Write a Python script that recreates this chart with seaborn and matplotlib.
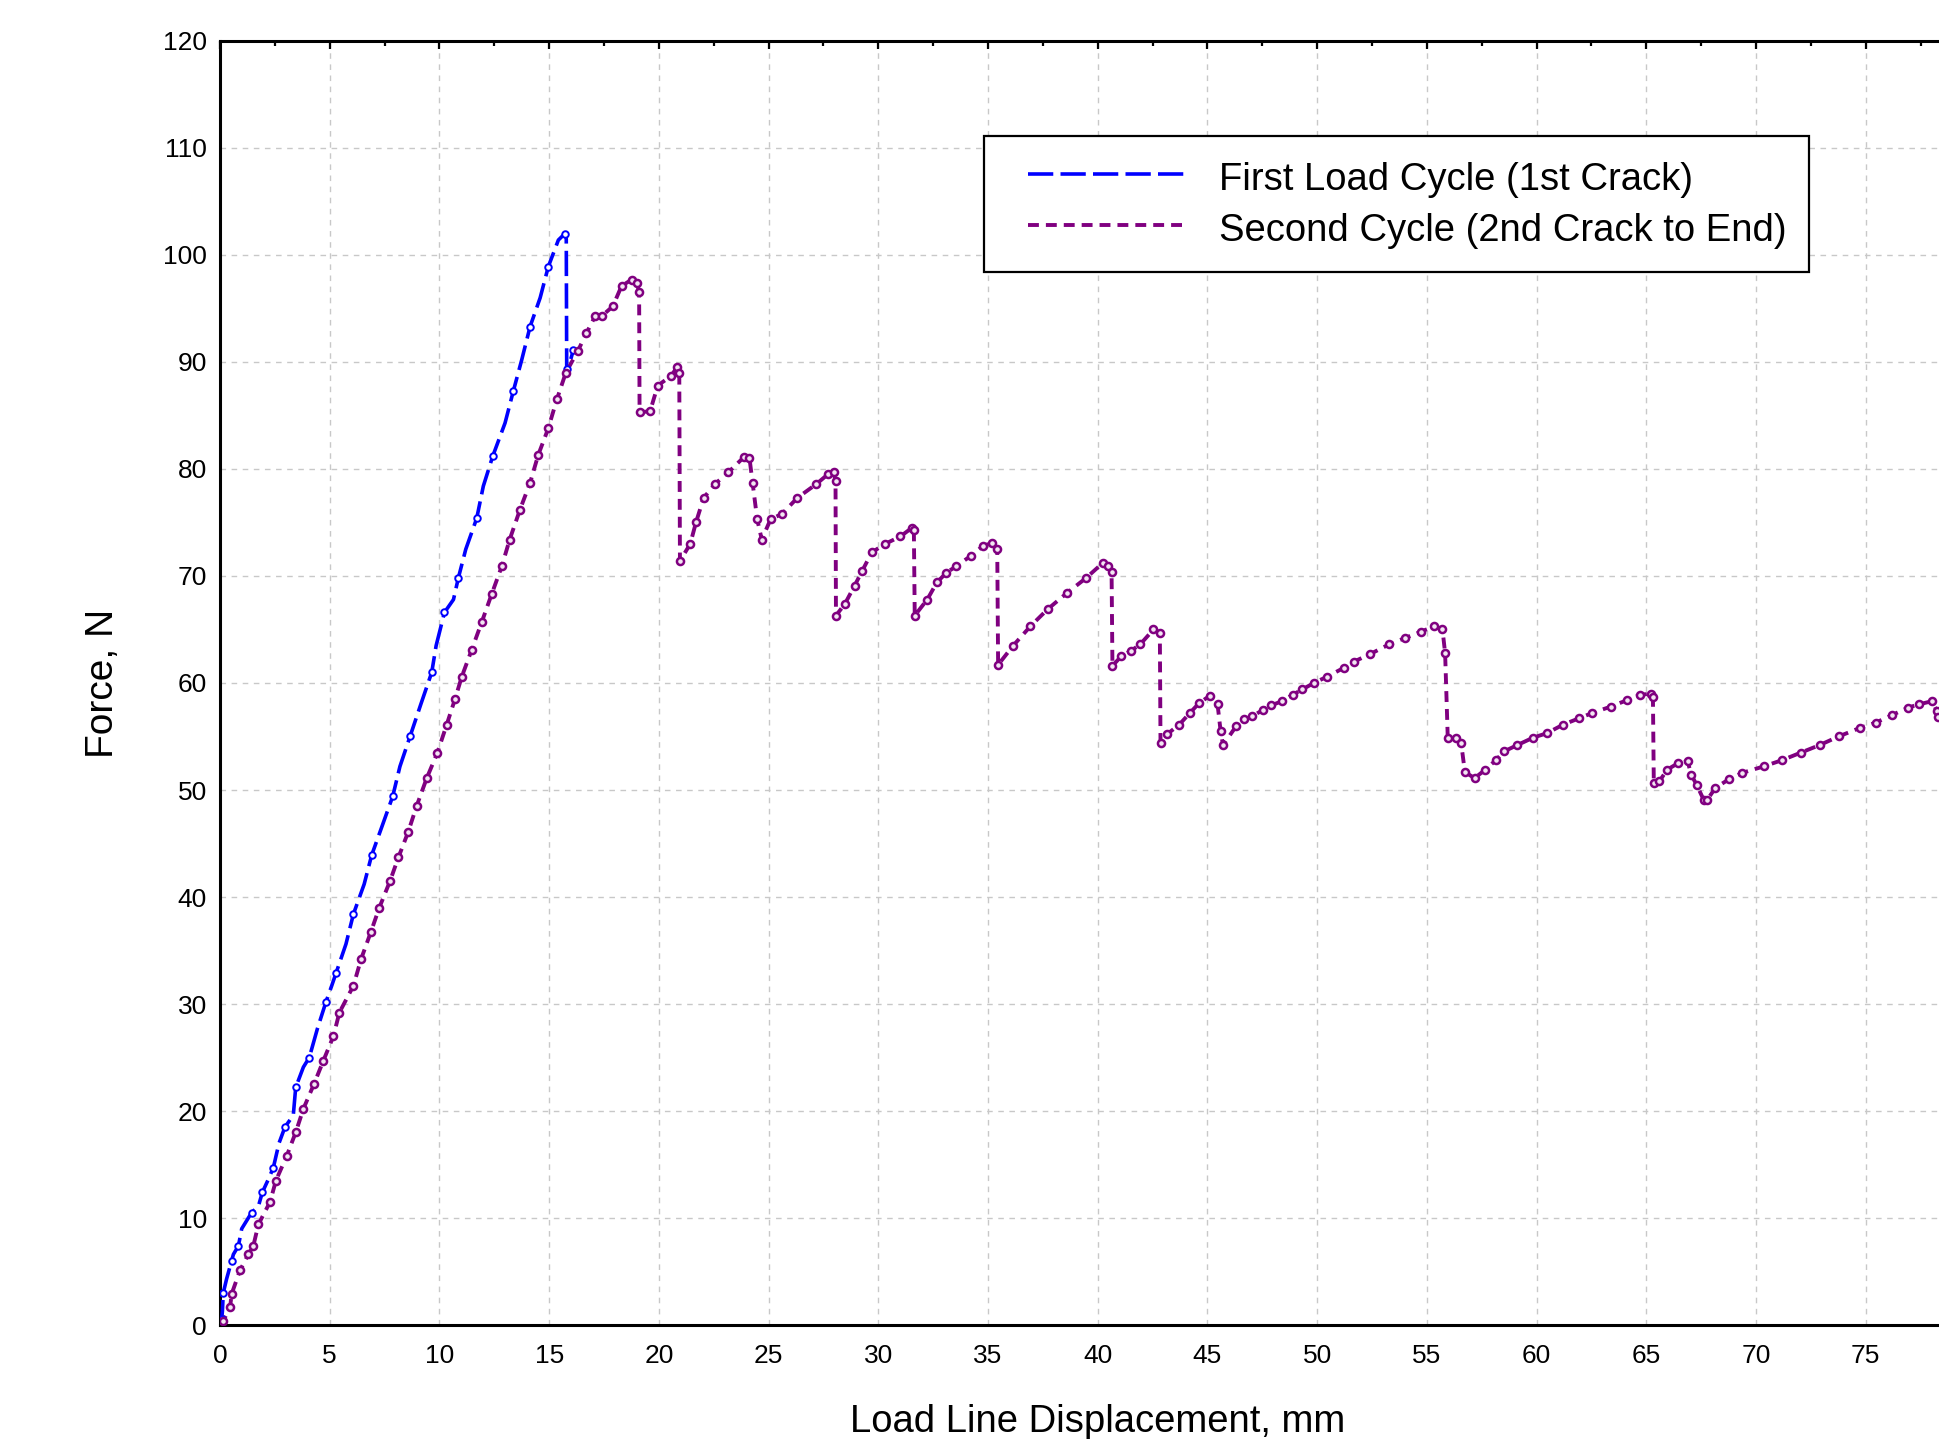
import matplotlib
matplotlib.use("Agg")
import matplotlib.pyplot as plt
from matplotlib.ticker import MultipleLocator
from matplotlib.legend_handler import HandlerLine2D
from matplotlib.lines import Line2D
import seaborn as sns
import pandas as pd

# First load cycle: load line displacement (mm) and force (N)
first_disp = [0, 0.08, 0.11, 0.15, 0.30, 0.53, 0.61, 0.84, 0.99, 1.44, 1.75, 1.93,
              2.20, 2.43, 2.69, 2.96, 3.34, 3.45, 3.80, 4.07, 4.44, 4.83, 5.09, 5.29,
              5.74, 6.08, 6.57, 6.91, 7.40, 7.87, 8.20, 8.66, 9.15, 9.65, 9.85, 10.23,
              10.64, 10.86, 11.20, 11.70, 12.00, 12.43, 12.99, 13.37, 13.75, 14.13,
              14.59, 14.96, 15.42, 15.72, 15.78, 15.80, 15.95, 16.10]
first_force = [0, 0.6, 1.3, 3.0, 4.3, 6.0, 6.6, 7.4, 9.0, 10.5, 11.1, 12.4,
               13.6, 14.7, 17.0, 18.5, 19.6, 22.2, 24.1, 25.0, 27.7, 30.2, 31.7, 32.9,
               35.6, 38.4, 41.2, 43.9, 46.7, 49.4, 52.2, 55.0, 58.0, 61.0, 63.5, 66.6,
               67.8, 69.8, 72.5, 75.4, 78.4, 81.2, 84.3, 87.3, 90.2, 93.3,
               96.0, 98.9, 101.4, 102.0, 101.5, 89.3, 90.0, 91.1]

# Second cycle: from the 2nd crack to the end of the test
second_disp = [0, 0.15, 0.46, 0.53, 0.91, 1.29, 1.52, 1.75, 2.28, 2.55, 3.04, 3.45,
               3.80, 4.28, 4.71, 5.17, 5.44, 6.08, 6.43, 6.87, 7.26, 7.75, 8.13, 8.58,
               8.96, 9.42, 9.91, 10.33, 10.71, 11.02, 11.47, 11.93, 12.38, 12.84, 13.20,
               13.67, 14.13, 14.50, 14.96, 15.35, 15.76, 16.30, 16.70, 17.10, 17.40,
               17.90, 18.30, 18.76, 19.00, 19.10, 19.12, 19.60, 19.95, 20.56, 20.82,
               20.93, 20.96, 21.43, 21.69, 22.04, 22.56, 23.17, 23.87, 24.13, 24.27,
               24.48, 24.69, 25.09, 25.61, 26.31, 27.18, 27.70, 27.96, 28.05, 28.07,
               28.48, 28.92, 29.27, 29.70, 30.31, 31.01, 31.53, 31.62, 31.66, 32.23,
               32.67, 33.10, 33.54, 34.23, 34.76, 35.19, 35.42, 35.46, 36.15, 36.93,
               37.72, 38.59, 39.46, 40.22, 40.45, 40.63, 40.67, 41.07, 41.51, 41.93,
               42.54, 42.83, 42.86, 43.15, 43.71, 44.20, 44.61, 45.10, 45.46, 45.60,
               45.71, 46.32, 46.68, 47.05, 47.54, 47.90, 48.39, 48.88, 49.32, 49.85,
               50.46, 51.20, 51.68, 52.41, 53.27, 54.00, 54.73, 55.34, 55.71, 55.83,
               55.95, 56.32, 56.56, 56.73, 57.17, 57.66, 58.15, 58.51, 59.12, 59.85,
               60.46, 61.20, 61.93, 62.54, 63.39, 64.12, 64.73, 65.22, 65.30, 65.34,
               65.59, 65.95, 66.44, 66.88, 67.05, 67.29, 67.61, 67.78, 68.15, 68.76,
               69.37, 70.34, 71.20, 72.05, 72.90, 73.76, 74.73, 75.46, 76.20, 76.93,
               77.41, 78.02, 78.24, 78.30]
second_force = [0, 0.4, 1.65, 2.9, 5.1, 6.6, 7.4, 9.4, 11.5, 13.5, 15.8, 18.0,
                20.2, 22.5, 24.7, 27.0, 29.2, 31.7, 34.2, 36.7, 39.0, 41.5, 43.7, 46.1,
                48.5, 51.1, 53.5, 56.1, 58.5, 60.6, 63.1, 65.7, 68.3, 70.9, 73.4,
                76.2, 78.7, 81.3, 83.8, 86.5, 89.0, 91.0, 92.7, 94.3, 94.3,
                95.2, 97.1, 97.7, 97.4, 96.5, 85.3, 85.4, 87.8, 88.7, 89.5,
                89.0, 71.4, 73.0, 75.0, 77.3, 78.6, 79.7, 81.1, 81.0, 78.7,
                75.3, 73.4, 75.3, 75.8, 77.3, 78.6, 79.5, 79.7, 78.9, 66.3,
                67.4, 69.1, 70.5, 72.2, 73.0, 73.7, 74.5, 74.3, 66.3, 67.8,
                69.4, 70.3, 70.9, 71.9, 72.8, 73.1, 72.5, 61.7, 63.5, 65.3,
                66.9, 68.4, 69.8, 71.2, 70.9, 70.4, 61.6, 62.5, 63.0, 63.6,
                65.0, 64.7, 54.4, 55.2, 56.1, 57.2, 58.1, 58.8, 58.0, 55.5,
                54.2, 56.0, 56.6, 56.9, 57.5, 57.9, 58.3, 58.9, 59.4, 60.0,
                60.6, 61.4, 62.0, 62.7, 63.6, 64.2, 64.8, 65.3, 65.0, 62.8,
                54.9, 54.9, 54.4, 51.7, 51.1, 51.9, 52.8, 53.6, 54.2, 54.9,
                55.3, 56.1, 56.7, 57.2, 57.8, 58.4, 58.9, 59.0, 58.7, 50.7,
                50.8, 51.9, 52.5, 52.7, 51.4, 50.5, 49.1, 49.1, 50.2, 51.0,
                51.6, 52.2, 52.8, 53.5, 54.2, 55.0, 55.8, 56.3, 57.0, 57.7,
                58.0, 58.3, 57.4, 56.8]

x_ticks = list(range(0, 80, 5))
y_ticks = list(range(0, 121, 10))

first_label = "First Load Cycle (1st Crack)"
second_label = "Second Cycle (2nd Crack to End)"
x_label = "Load Line Displacement, mm"
y_label = "Force, N"

blue = "#0000ff"
purple = "#800080"

sns.set_style("white")
plt.rcParams["font.family"] = ["Liberation Sans", "DejaVu Sans"]
for key in ["text.color", "axes.labelcolor", "xtick.color", "ytick.color"]:
    plt.rcParams[key] = "black"

first = pd.DataFrame({"disp": first_disp, "force": first_force})
second = pd.DataFrame({"disp": second_disp, "force": second_force})

fig = plt.figure(figsize=(19.39, 14.39), dpi=100)
ax = fig.add_axes([0.11346, 0.07922, 0.90536, 0.89229])

sns.lineplot(data=first, x="disp", y="force", sort=False, estimator=None,
             color=blue, linewidth=2.6, linestyle=(0, (7, 2)),
             label=first_label, ax=ax, zorder=3)
sns.lineplot(data=second, x="disp", y="force", sort=False, estimator=None,
             color=purple, linewidth=2.8, linestyle=(0, (2.8, 1.8)),
             label=second_label, ax=ax, zorder=3)

# small open sample markers along both records
sns.scatterplot(data=first.iloc[1::2], x="disp", y="force", marker="o", s=22,
                facecolor="white", edgecolor=blue, linewidth=1.4, ax=ax,
                zorder=4, legend=False)
sns.scatterplot(data=second.iloc[1:], x="disp", y="force", marker="o", s=26,
                facecolor="#f2e6f2", edgecolor=purple, linewidth=1.8, ax=ax,
                zorder=4, legend=False)

ax.set_xlim(0, 80)
ax.set_ylim(0, 120)
ax.set_xticks(x_ticks)
ax.set_yticks(y_ticks)
ax.xaxis.set_minor_locator(MultipleLocator(2.5))
ax.yaxis.set_minor_locator(MultipleLocator(5))

ax.grid(True, which="major", color="#c8c8c8", linestyle=(0, (4, 4)), linewidth=1.0)
ax.set_axisbelow(True)

for side in ["left", "bottom", "top"]:
    ax.spines[side].set_visible(True)
    ax.spines[side].set_color("black")
    ax.spines[side].set_linewidth(2.2)
ax.spines["right"].set_visible(False)

ax.tick_params(which="both", direction="in", top=True, right=False, color="black",
               width=1.6)
ax.tick_params(which="major", length=5.5, labelsize=19)
ax.tick_params(axis="x", which="major", pad=14)
ax.tick_params(axis="y", which="major", pad=9.5)
ax.tick_params(which="minor", length=3.5)

ax.set_xlabel(x_label, fontsize=27.5, labelpad=25.5)
ax.set_ylabel(y_label, fontsize=28, labelpad=30)

# legend samples start a little in from the frame
handles, labels = ax.get_legend_handles_labels()
leg = ax.legend(handles, labels, loc="upper left", bbox_to_anchor=(0.435, 0.926),
                borderaxespad=0, fontsize=27.5, frameon=True, fancybox=False,
                shadow=False, handlelength=4.65, handletextpad=0.9, borderpad=0.6,
                handleheight=1.07, labelspacing=0.31,
                handler_map={Line2D: HandlerLine2D(xpad=0.55)})
leg.get_frame().set_edgecolor("black")
leg.get_frame().set_linewidth(1.6)
leg.get_frame().set_alpha(1.0)

fig.savefig("out.png", dpi=100)
